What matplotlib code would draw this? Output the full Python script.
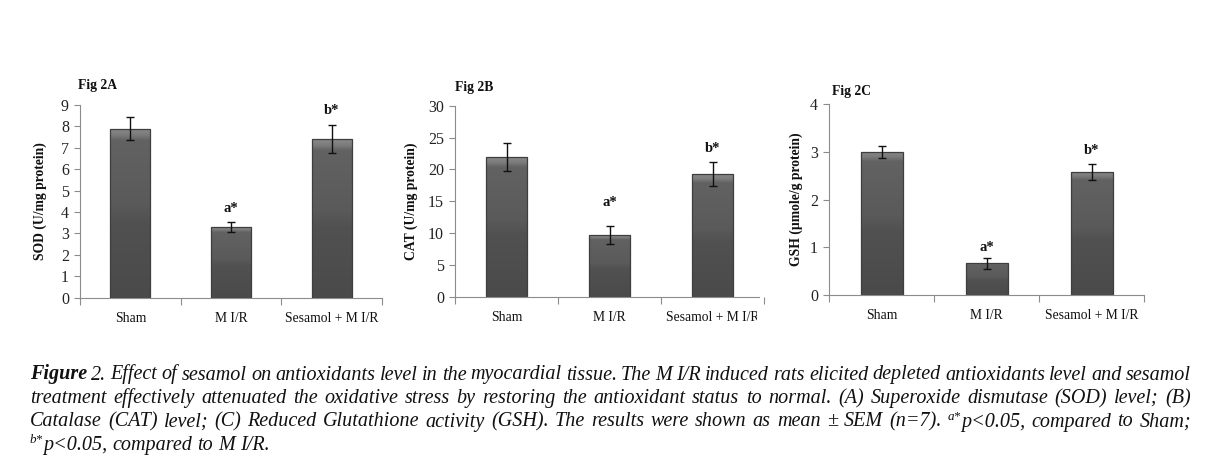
import matplotlib
matplotlib.use("Agg")
import matplotlib.pyplot as plt
import numpy as np
from matplotlib.transforms import Bbox
from matplotlib.colors import LinearSegmentedColormap

# ---------------- data ----------------
categories = ["Sham", "M I/R", "Sesamol + M I/R"]

sod_mean = [7.9, 3.3, 7.4]
sod_sem = [0.55, 0.25, 0.65]
sod_sig = ["", "a*", "b*"]

cat_mean = [21.9, 9.7, 19.3]
cat_sem = [2.2, 1.35, 1.85]
cat_sig = ["", "a*", "b*"]

gsh_mean = [3.0, 0.67, 2.58]
gsh_sem = [0.13, 0.11, 0.16]
gsh_sig = ["", "a*", "b*"]

ylabels = ["SOD (U/mg protein)", "CAT (U/mg protein)", "GSH (\u00b5mole/g protein)"]
panel_titles = ["Fig 2A", "Fig 2B", "Fig 2C"]
ymaxes = [9, 30, 4]
ysteps = [1, 5, 1]

SERIF = ["Liberation Serif", "DejaVu Serif"]
plt.rcParams["font.family"] = SERIF

W, H = 1208, 468
fig = plt.figure(figsize=(W / 100, H / 100), dpi=100)

def px_ax(x0, y0_px, x1, ytop_px):
    return [x0 / W, 1 - y0_px / H, (x1 - x0) / W, (y0_px - ytop_px) / H]

axes_rects = [
    px_ax(80, 297.7, 382, 105.0),
    px_ax(455, 296.7, 764, 105.7),
    px_ax(829, 295.3, 1144, 104.0),
]
label_x = [-0.109, -0.12, -0.083]
title_pos = [(78, 85), (455, 87), (832, 91)]
sig_offsets = [[0, 9.4, 10.8], [0, 17, 9.4], [0, 7.9, 9.8]]

datasets = [
    (sod_mean, sod_sem, sod_sig),
    (cat_mean, cat_sem, cat_sig),
    (gsh_mean, gsh_sem, gsh_sig),
]

bar_cmap = LinearSegmentedColormap.from_list(
    "bar", [(0.0, "#4a4a4a"), (0.45, "#515151"), (0.55, "#5a5a5a"),
            (0.93, "#626262"), (0.96, "#7a7a7a"), (1.0, "#8a8a8a")])
grad = np.linspace(0, 1, 256).reshape(-1, 1)

axis_color = "#8c8c8c"
for i, (means, sems, sigs) in enumerate(datasets):
    ax = fig.add_axes(axes_rects[i])
    xs = list(range(len(categories)))
    bars = ax.bar(xs, means, width=0.4, color="none", edgecolor="#3e3e3e",
                  linewidth=0.9, zorder=2)
    for b in bars:
        x0, y0 = b.get_x(), b.get_y()
        im = ax.imshow(grad, cmap=bar_cmap, origin="lower", aspect="auto",
                       extent=[x0, x0 + b.get_width(), y0, y0 + b.get_height()],
                       zorder=1.5, interpolation="bilinear")
        im.set_clip_path(b)
    ax.errorbar(xs, means, yerr=sems, fmt="none", ecolor="#111111",
                elinewidth=1.0, capsize=3, capthick=1.0, zorder=3)
    for x, m, s, lab, off in zip(xs, means, sems, sigs, sig_offsets[i]):
        if lab:
            ax.annotate(lab, (x, m + s), xytext=(0, off), textcoords="offset points",
                        ha="center", va="center", fontsize=10.5, fontweight="bold",
                        color="#111111")
    ax.set_xlim(-0.5, 2.5)
    ax.set_ylim(0, ymaxes[i])
    ax.set_yticks([k * ysteps[i] for k in range(int(ymaxes[i] / ysteps[i]) + 1)])
    ax.set_xticks(xs)
    ax.set_xticklabels(categories)
    ax.set_xticks([-0.5, 0.5, 1.5, 2.5], minor=True)
    ax.tick_params(axis="x", which="major", length=0, pad=10, labelsize=9.8,
                   labelcolor="#111111")
    ax.tick_params(axis="x", which="minor", length=5, width=0.8, color=axis_color,
                   direction="out")
    ax.tick_params(axis="y", length=4, width=0.8, color=axis_color, pad=4,
                   labelsize=11.5, labelcolor="#222222")
    for sp in ["top", "right"]:
        ax.spines[sp].set_visible(False)
    for sp in ["left", "bottom"]:
        ax.spines[sp].set_color(axis_color)
        ax.spines[sp].set_linewidth(0.8)
    ax.set_ylabel(ylabels[i], fontsize=9.8, fontweight="bold", color="#111111")
    ax.yaxis.set_label_coords(label_x[i], 0.5)
    tx, ty = title_pos[i]
    fig.text(tx / W, 1 - ty / H, panel_titles[i], fontsize=9.8, fontweight="bold",
             ha="left", va="center", color="#111111")
    if i == 1:
        clip = Bbox([[0, 0], [757, H]])
        for t in ax.get_xticklabels():
            t.set_clip_box(clip)
            t.set_clip_on(True)
        ax.spines["bottom"].set_bounds(-0.5, 2.45)

# ---------------- caption (justified) ----------------
cap_size = 14.5
IT = dict(style="italic", weight="normal")
BI = dict(style="italic", weight="bold")

caption_lines = [
    "Figure| 2. Effect of sesamol on antioxidants level in the myocardial tissue. The M I/R induced rats elicited depleted antioxidants level and sesamol",
    "treatment effectively attenuated the oxidative stress by restoring the antioxidant status to normal. (A) Superoxide dismutase (SOD) level; (B)",
    "Catalase (CAT) level; (C) Reduced Glutathione activity (GSH). The results were shown as mean \u00b1 SEM (n=7). ^a*|p<0.05, compared to Sham;",
    "^b*|p<0.05, compared to M I/R.",
]
line_base = [379.5, 403, 426.5, 450]
x_left, x_right = 30, 1191

fig.canvas.draw()
renderer = fig.canvas.get_renderer()

def parse_word(w):
    segs = []
    for part in w.split("|"):
        if not part:
            continue
        if part.startswith("^"):
            segs.append((part[1:], IT, cap_size * 0.65, 7))
        elif part == "Figure":
            segs.append((part, BI, cap_size, 0))
        else:
            segs.append((part, IT, cap_size, 0))
    return segs

def measure(text, props, size):
    t = fig.text(0, 0, text, fontsize=size, **props)
    w = t.get_window_extent(renderer).width
    t.remove()
    return w

space_w = measure("a b", IT, cap_size) - measure("ab", IT, cap_size)

for li, (line, y) in enumerate(zip(caption_lines, line_base)):
    words = [parse_word(w) for w in line.split(" ")]
    widths = [[measure(s, p, sz) for (s, p, sz, dy) in wd] for wd in words]
    total = sum(sum(ws) for ws in widths)
    if li < len(caption_lines) - 1:
        gap = (x_right - x_left - total) / (len(words) - 1)
    else:
        gap = space_w
    x = x_left
    for wd, ws in zip(words, widths):
        for (s, p, sz, dy), sw in zip(wd, ws):
            fig.text(x / W, 1 - (y - dy) / H, s, fontsize=sz, color="#111111",
                     ha="left", va="baseline", **p)
            x += sw
        x += gap

fig.savefig("out.png", dpi=100)
